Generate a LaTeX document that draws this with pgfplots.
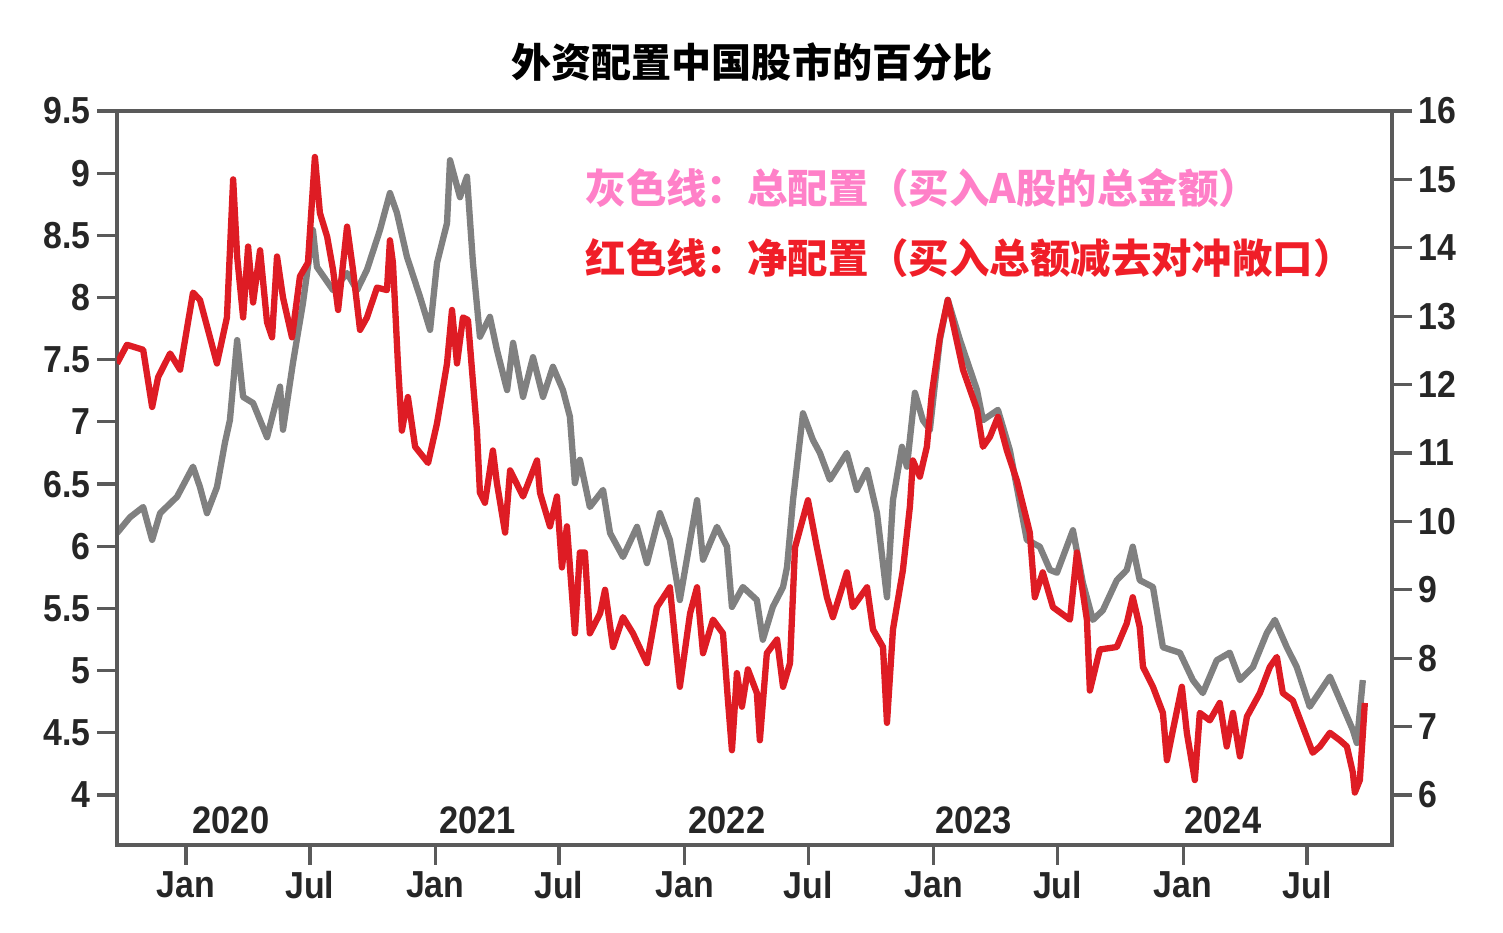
\documentclass[border=0pt]{standalone}
\usepackage{fontspec}
\usepackage{pgfplots}
\pgfplotsset{compat=1.18}
\setmainfont{Liberation Sans}
\newfontfamily\tickfont{Liberation Sans}[FakeStretch=0.9]
\newfontfamily\cjk{Noto Sans CJK SC}
\definecolor{redline}{RGB}{222,28,36}
\definecolor{greyline}{RGB}{128,128,128}
\definecolor{axgrey}{RGB}{90,90,90}
\definecolor{pinktxt}{RGB}{255,128,200}
\definecolor{redtxt}{RGB}{240,30,40}
\begin{document}
\begin{tikzpicture}
\pgfplotsset{
  base/.style={
    scale only axis, width=127.5mm, height=73.4mm,
    xmin=2019.723, xmax=2024.838,
    tick align=outside, major tick length=2mm,
    axis line style={axgrey, line width=0.9pt},
    every tick/.style={axgrey, line width=0.9pt},
    tick label style={font={\tickfont\fontsize{10.7}{12}\selectfont\bfseries}, text=black!85},
    /pgf/number format/assume math mode=true,
    clip=true,
  }
}
\begin{axis}[base,
  ymin=5.269, ymax=16,
  axis x line=none, axis y line*=right,
  ytick={6,7,8,9,10,11,12,13,14,15,16},
  yticklabel style={inner sep=0.6mm},
]
\addplot[greyline, line width=1.8pt, line join=round] coordinates {
(2019.723,9.83)(2019.775,10.06)(2019.828,10.21)(2019.864,9.73)(2019.896,10.12)
(2019.964,10.36)(2020.028,10.80)(2020.056,10.50)(2020.084,10.12)(2020.124,10.50)
(2020.156,11.15)(2020.176,11.48)(2020.205,12.65)(2020.229,11.82)(2020.269,11.73)
(2020.325,11.23)(2020.377,11.97)(2020.389,11.34)(2020.429,12.32)(2020.469,13.19)
(2020.509,14.26)(2020.525,13.72)(2020.590,13.38)(2020.646,13.63)(2020.686,13.38)
(2020.726,13.68)(2020.778,14.26)(2020.818,14.80)(2020.846,14.51)(2020.886,13.87)
(2020.939,13.28)(2020.979,12.80)(2021.007,13.78)(2021.047,14.36)(2021.059,15.28)
(2021.099,14.74)(2021.127,15.04)(2021.151,13.78)(2021.179,12.70)(2021.219,12.99)
(2021.247,12.51)(2021.288,11.92)(2021.312,12.61)(2021.352,11.82)(2021.392,12.40)
(2021.432,11.82)(2021.472,12.26)(2021.512,11.92)(2021.540,11.53)(2021.560,10.56)
(2021.580,10.90)(2021.620,10.21)(2021.673,10.46)(2021.701,9.83)(2021.753,9.48)
(2021.809,9.92)(2021.849,9.39)(2021.901,10.12)(2021.941,9.73)(2021.981,8.85)
(2022.050,10.31)(2022.074,9.44)(2022.130,9.92)(2022.170,9.63)(2022.190,8.75)
(2022.234,9.04)(2022.290,8.85)(2022.314,8.27)(2022.354,8.75)(2022.395,9.04)
(2022.411,9.33)(2022.435,10.31)(2022.475,11.58)(2022.515,11.19)(2022.543,11.00)
(2022.583,10.61)(2022.651,11.00)(2022.691,10.46)(2022.732,10.75)(2022.772,10.12)
(2022.812,8.89)(2022.836,10.31)(2022.872,11.09)(2022.892,10.80)(2022.924,11.88)
(2022.956,11.48)(2022.984,11.34)(2023.024,12.65)(2023.056,13.24)(2023.105,12.65)
(2023.173,11.92)(2023.197,11.48)(2023.257,11.63)(2023.305,11.04)(2023.373,9.73)
(2023.425,9.63)(2023.466,9.29)(2023.494,9.25)(2023.558,9.87)(2023.598,9.10)
(2023.638,8.56)(2023.678,8.70)(2023.734,9.14)(2023.774,9.29)(2023.798,9.63)
(2023.826,9.14)(2023.879,9.04)(2023.919,8.16)(2023.987,8.08)(2024.039,7.68)
(2024.079,7.49)(2024.135,7.97)(2024.187,8.08)(2024.228,7.68)(2024.280,7.87)
(2024.336,8.37)(2024.368,8.56)(2024.416,8.16)(2024.456,7.87)(2024.508,7.29)
(2024.589,7.73)(2024.641,7.29)(2024.681,6.95)(2024.697,6.76)(2024.721,7.68)
};
\end{axis}
\begin{axis}[base,
  ymin=3.598, ymax=9.5,
  xtick pos=bottom, ytick pos=left,
  ytick={4,4.5,5,5.5,6,6.5,7,7.5,8,8.5,9,9.5},
  yticklabels={4,4.5,5,5.5,6,6.5,7,7.5,8,8.5,9,9.5},
  xtick={2020,2020.497,2021,2021.496,2022,2022.496,2023,2023.496,2024,2024.497},
  xticklabels={Jan,Jul,Jan,Jul,Jan,Jul,Jan,Jul,Jan,Jul},
  yticklabel style={inner sep=0.6mm},
  xticklabel style={inner sep=0.6mm},
]
\addplot[redline, line width=1.8pt, line join=round] coordinates {
(2019.723,7.47)(2019.763,7.62)(2019.828,7.58)(2019.864,7.12)(2019.888,7.36)
(2019.936,7.55)(2019.976,7.42)(2020.028,8.04)(2020.056,7.98)(2020.124,7.47)
(2020.164,7.84)(2020.189,8.95)(2020.205,8.33)(2020.229,7.84)(2020.249,8.41)
(2020.269,7.96)(2020.297,8.38)(2020.325,7.80)(2020.345,7.68)(2020.365,8.33)
(2020.389,8.00)(2020.425,7.68)(2020.457,8.17)(2020.489,8.28)(2020.517,9.13)
(2020.537,8.68)(2020.566,8.49)(2020.590,8.22)(2020.610,7.90)(2020.646,8.57)
(2020.670,8.22)(2020.698,7.74)(2020.726,7.84)(2020.766,8.08)(2020.806,8.06)
(2020.818,8.46)(2020.830,8.28)(2020.850,7.47)(2020.866,6.93)(2020.890,7.20)
(2020.919,6.80)(2020.971,6.67)(2021.007,6.99)(2021.047,7.47)(2021.067,7.90)
(2021.087,7.47)(2021.111,7.84)(2021.131,7.82)(2021.147,7.42)(2021.167,6.93)
(2021.179,6.43)(2021.199,6.35)(2021.231,6.77)(2021.247,6.51)(2021.280,6.11)
(2021.300,6.61)(2021.352,6.40)(2021.408,6.69)(2021.420,6.43)(2021.460,6.16)
(2021.488,6.40)(2021.508,5.83)(2021.528,6.16)(2021.560,5.30)(2021.580,5.95)
(2021.600,5.95)(2021.620,5.30)(2021.661,5.46)(2021.681,5.65)(2021.713,5.19)
(2021.753,5.43)(2021.793,5.30)(2021.849,5.06)(2021.889,5.51)(2021.941,5.67)
(2021.981,4.87)(2022.022,5.46)(2022.050,5.67)(2022.074,5.14)(2022.114,5.41)
(2022.154,5.30)(2022.174,4.76)(2022.190,4.36)(2022.210,4.98)(2022.230,4.71)
(2022.254,5.01)(2022.290,4.82)(2022.302,4.44)(2022.330,5.14)(2022.371,5.25)
(2022.395,4.87)(2022.423,5.06)(2022.443,5.99)(2022.495,6.37)(2022.531,5.99)
(2022.571,5.59)(2022.595,5.43)(2022.651,5.79)(2022.675,5.51)(2022.732,5.67)
(2022.756,5.33)(2022.796,5.19)(2022.812,4.58)(2022.836,5.33)(2022.876,5.81)
(2022.904,6.32)(2022.916,6.69)(2022.944,6.56)(2022.972,6.80)(2022.992,7.23)
(2023.024,7.68)(2023.056,7.98)(2023.076,7.80)(2023.117,7.42)(2023.173,7.10)
(2023.197,6.80)(2023.225,6.88)(2023.257,7.04)(2023.293,6.77)(2023.333,6.53)
(2023.385,6.11)(2023.405,5.59)(2023.437,5.79)(2023.478,5.51)(2023.546,5.41)
(2023.574,5.95)(2023.614,5.41)(2023.626,4.84)(2023.666,5.17)(2023.734,5.19)
(2023.774,5.38)(2023.798,5.59)(2023.826,5.35)(2023.839,5.03)(2023.879,4.87)
(2023.919,4.66)(2023.935,4.28)(2023.959,4.52)(2023.995,4.87)(2024.015,4.50)
(2024.047,4.12)(2024.067,4.66)(2024.107,4.60)(2024.147,4.74)(2024.175,4.39)
(2024.200,4.66)(2024.228,4.31)(2024.256,4.63)(2024.308,4.82)(2024.348,5.03)
(2024.376,5.11)(2024.400,4.82)(2024.440,4.76)(2024.480,4.55)(2024.520,4.34)
(2024.549,4.39)(2024.589,4.50)(2024.629,4.44)(2024.657,4.39)(2024.681,4.18)
(2024.689,4.02)(2024.709,4.12)(2024.729,4.74)
};
\foreach \yr/\xp in {2020/2020.18,2021/2021.17,2022/2022.17,2023/2023.16,2024/2024.16}{
  \edef\temp{\noexpand\node[font={\noexpand\tickfont\noexpand\fontsize{10.9}{12}\noexpand\selectfont\noexpand\bfseries}, text=black!85] at (axis cs:\xp,3.80) {\yr};}
  \temp
}
\node[anchor=west, inner sep=0pt, font={\cjk\fontsize{11.5}{13}\selectfont\bfseries}, text=pinktxt] at (rel axis cs:0.367,0.895) {灰色线：总配置（买入A股的总金额）};
\node[anchor=west, inner sep=0pt, font={\cjk\fontsize{11.5}{13}\selectfont\bfseries}, text=redtxt] at (rel axis cs:0.367,0.800) {红色线：净配置（买入总额减去对冲敞口）};
\end{axis}
\node[font={\cjk\fontsize{11.4}{13}\selectfont\bfseries}, text=black, inner sep=0pt] at ([xshift=-0.25mm,yshift=4.9mm]current axis.north) {外资配置中国股市的百分比};
\path (current axis.south west) ++(-11.7mm,-8.8mm) rectangle ([xshift=11.1mm,yshift=11.1mm]current axis.north east);
\end{tikzpicture}
\end{document}
